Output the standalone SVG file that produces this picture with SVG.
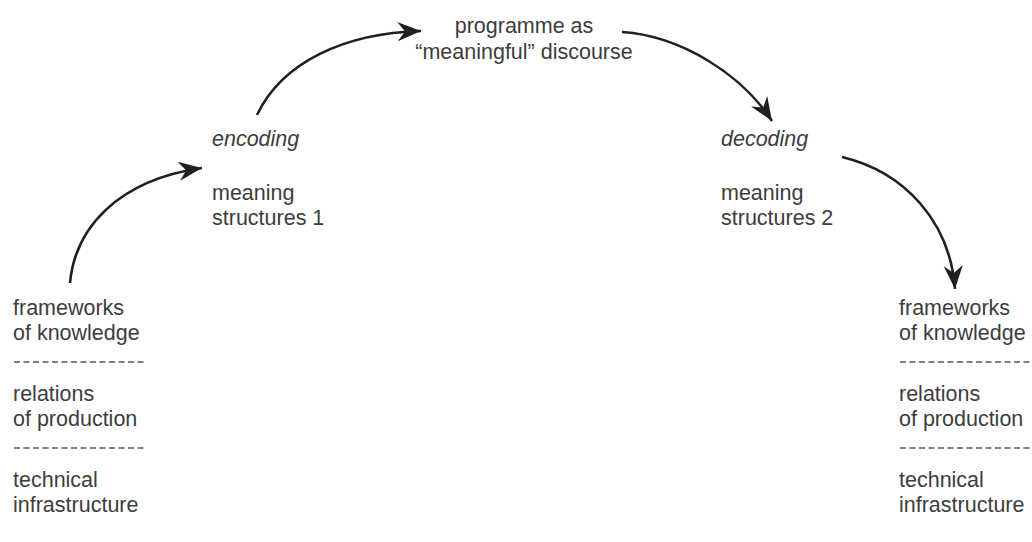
<svg xmlns="http://www.w3.org/2000/svg" width="1032" height="542" viewBox="0 0 1032 542">
<style>
.t{font-family:"Liberation Sans",Arial,sans-serif;font-size:21.5px;fill:#3d3d3d}
.i{font-style:italic}
.c{text-anchor:middle}
.sep{stroke:#555;stroke-width:1.3;stroke-dasharray:6 3.5}
.a{fill:none;stroke:#1e2120;stroke-width:2.6}
</style>
<defs>
<marker id="ah" markerUnits="userSpaceOnUse" markerWidth="32" markerHeight="32" viewBox="-26 -13 30 26" refX="0" refY="0" orient="auto">
<path d="M0,0 L-22,-9 L-15,0 L-22,9 Z" fill="#1e2120"/>
</marker>
</defs>
<rect width="1032" height="542" fill="#ffffff"/>
<g id="connectors">
<path class="a" d="M70,283 C75,228 118,180 202,168" marker-end="url(#ah)"/>
<path class="a" d="M257,115 C282,62 345,33 421,31" marker-end="url(#ah)"/>
<path class="a" d="M622,32 C682,36 742,75 772,121" marker-end="url(#ah)"/>
<path class="a" d="M842,157 C905,172 950,222 955,289" marker-end="url(#ah)"/>
</g>
<g id="programme">
<text class="t c" x="524" y="33">programme as</text>
<text class="t c" x="524" y="59">“meaningful” discourse</text>
</g>
<g id="encoding">
<text class="t i" x="212" y="146">encoding</text>
<text class="t" x="212" y="200">meaning</text>
<text class="t" x="212" y="225">structures 1</text>
</g>
<g id="decoding">
<text class="t i" x="721" y="146">decoding</text>
<text class="t" x="721" y="200">meaning</text>
<text class="t" x="721" y="225">structures 2</text>
</g>
<g id="left-structures">
<text class="t" x="13" y="315">frameworks</text>
<text class="t" x="13" y="340">of knowledge</text>
<line class="sep" x1="14" y1="362" x2="147" y2="362"/>
<text class="t" x="13" y="401">relations</text>
<text class="t" x="13" y="426">of production</text>
<line class="sep" x1="14" y1="448" x2="147" y2="448"/>
<text class="t" x="13" y="487">technical</text>
<text class="t" x="13" y="512">infrastructure</text>
</g>
<g id="right-structures">
<text class="t" x="899" y="315">frameworks</text>
<text class="t" x="899" y="340">of knowledge</text>
<line class="sep" x1="900" y1="362" x2="1032" y2="362"/>
<text class="t" x="899" y="401">relations</text>
<text class="t" x="899" y="426">of production</text>
<line class="sep" x1="900" y1="448" x2="1032" y2="448"/>
<text class="t" x="899" y="487">technical</text>
<text class="t" x="899" y="512">infrastructure</text>
</g>
</svg>
